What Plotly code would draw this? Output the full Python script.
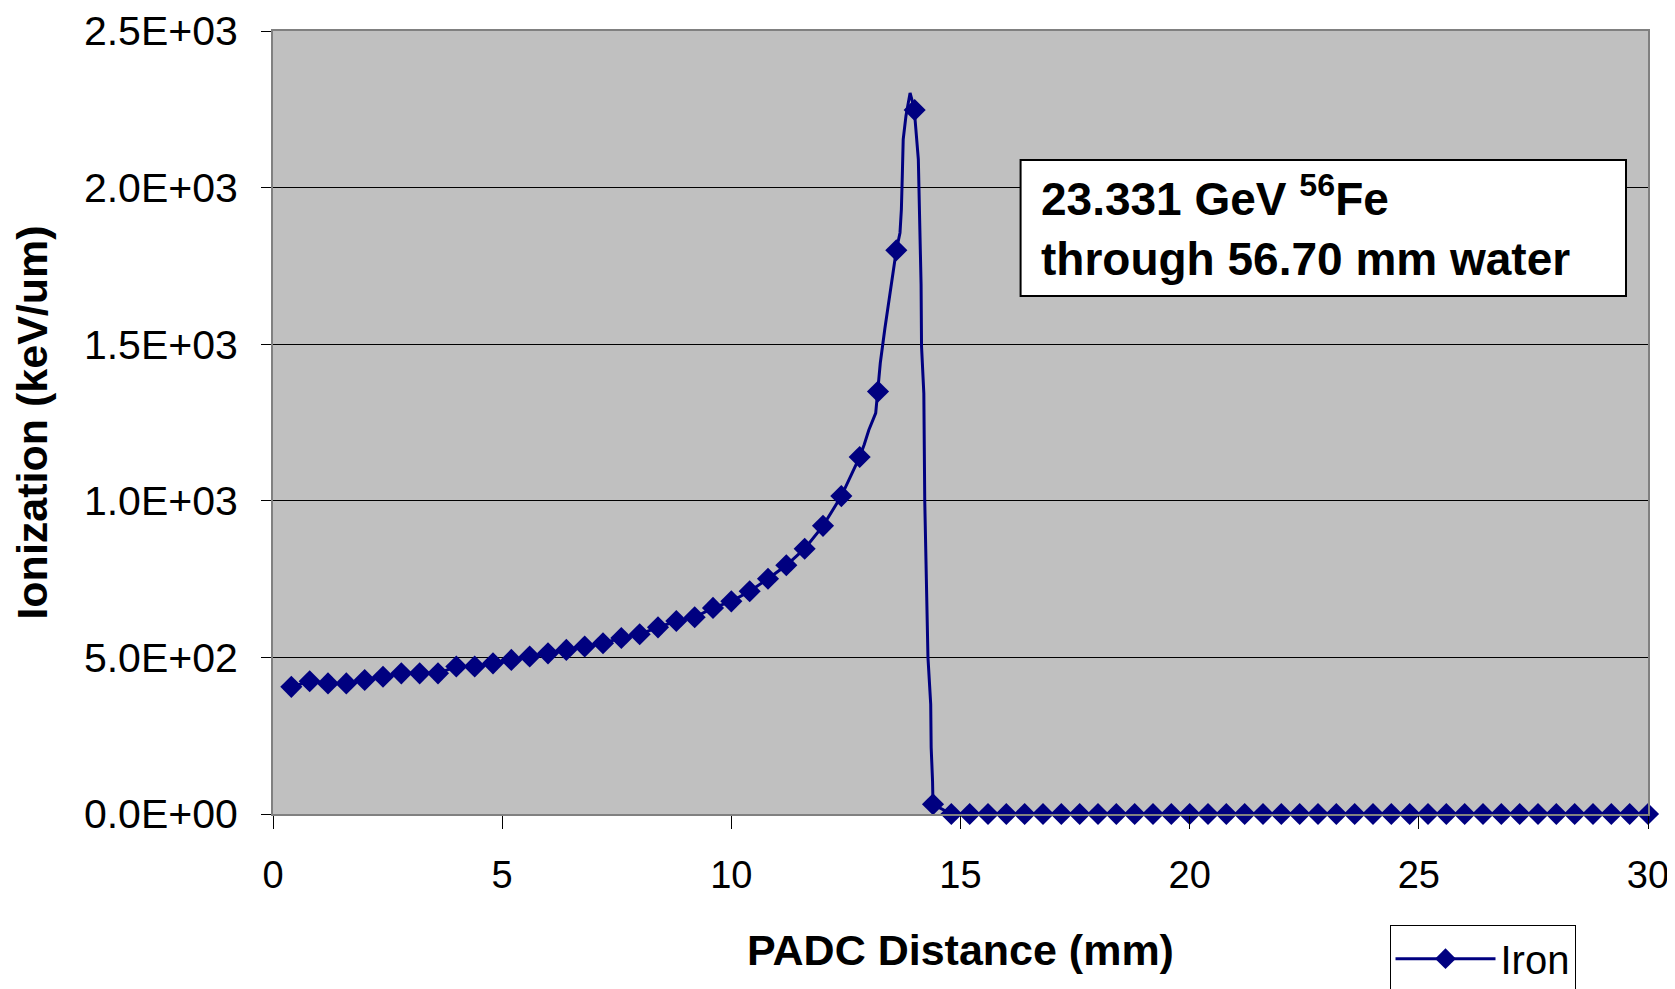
import plotly.graph_objects as go

# ---- data ----
marker_x = [0.4, 0.8, 1.2, 1.6, 2.0, 2.4, 2.8, 3.2, 3.6, 4.0, 4.4, 4.8, 5.2, 5.6, 6.0,
            6.4, 6.8, 7.2, 7.6, 8.0, 8.4, 8.8, 9.2, 9.6, 10.0, 10.4, 10.8, 11.2, 11.6,
            12.0, 12.4, 12.8, 13.2, 13.6, 14.0, 14.4, 14.8, 15.2, 15.6, 16.0, 16.4,
            16.8, 17.2, 17.6, 18.0, 18.4, 18.8, 19.2, 19.6, 20.0, 20.4, 20.8, 21.2,
            21.6, 22.0, 22.4, 22.8, 23.2, 23.6, 24.0, 24.4, 24.8, 25.2, 25.6, 26.0,
            26.4, 26.8, 27.2, 27.6, 28.0, 28.4, 28.8, 29.2, 29.6, 30.0]
marker_y = [406, 424, 417, 417, 428, 438, 449, 449, 449, 471, 471, 481, 492, 503, 513,
            524, 535, 545, 562, 574, 596, 616, 628, 658, 679, 711, 751, 794, 847,
            920, 1015, 1140, 1349, 1800, 2248, 31, 0, 0, 0, 0, 0,
            0, 0, 0, 0, 0, 0, 0, 0, 0, 0, 0, 0,
            0, 0, 0, 0, 0, 0, 0, 0, 0, 0, 0, 0,
            0, 0, 0, 0, 0, 0, 0, 0, 0, 0]

# extra intermediate points of the curve near the Bragg peak (line only)
detail_x = [12.9, 13.0, 13.15, 13.25, 13.35, 13.45, 13.53,
            13.68, 13.71, 13.73, 13.75, 13.81, 13.90,
            14.01, 14.08, 14.12, 14.14, 14.15, 14.20, 14.22, 14.29, 14.35, 14.36, 14.39]
detail_y = [1180, 1226, 1280, 1440, 1550, 1650, 1720,
            1856, 1930, 2037, 2154, 2229, 2302,
            2215, 2090, 1840, 1690, 1493, 1343, 1000, 500, 350, 212, 106]

y_tickvals = [0, 500, 1000, 1500, 2000, 2500]
y_ticktext = ["0.0E+00", "5.0E+02", "1.0E+03", "1.5E+03", "2.0E+03", "2.5E+03"]
x_tickvals = [0, 5, 10, 15, 20, 25, 30]

series_name = "Iron"
note_text = "<b>23.331 GeV <sup>56</sup>Fe<br>through 56.70 mm water</b>"

# ---- build line from markers + details ----
pts = sorted(list(zip(marker_x, marker_y)) + list(zip(detail_x, detail_y)), key=lambda p: p[0])
line_x = [p[0] for p in pts]
line_y = [p[1] for p in pts]

NAVY = "#000080"
FONT = "Liberation Sans, Arial, sans-serif"

fig = go.Figure()
fig.add_trace(go.Scatter(x=line_x, y=line_y, mode="lines",
                         line=dict(color=NAVY, width=3), showlegend=False,
                         cliponaxis=False, hoverinfo="skip"))
fig.add_trace(go.Scatter(x=marker_x, y=marker_y, mode="markers",
                         marker=dict(symbol="diamond", size=17, color=NAVY),
                         showlegend=False, cliponaxis=False, name=series_name))
fig.add_trace(go.Scatter(x=[None], y=[None], mode="lines+markers", name=series_name,
                         line=dict(color=NAVY, width=3),
                         marker=dict(symbol="diamond", size=17, color=NAVY)))

fig.update_layout(
    width=1667, height=981,
    paper_bgcolor="white", plot_bgcolor="#C0C0C0",
    margin=dict(l=265, r=27, t=23, b=175, autoexpand=False),
    font=dict(family=FONT, color="black"),
    xaxis=dict(range=[0, 30], tickvals=x_tickvals, ticks="outside", ticklen=13,
               tickcolor="black", tickwidth=1, showline=True, linecolor="#808080",
               linewidth=2, mirror=True, showgrid=False, zeroline=False,
               tickfont=dict(size=38, family=FONT), ticklabelstandoff=13,
               title=dict(text="<b>PADC Distance (mm)</b>", font=dict(size=43, family=FONT),
                          standoff=40)),
    yaxis=dict(range=[0, 2500], tickvals=y_tickvals, ticktext=y_ticktext, ticks="outside",
               ticklen=10, tickcolor="black", tickwidth=1, showline=True,
               linecolor="#808080", linewidth=2, mirror=True, showgrid=True,
               gridcolor="black", gridwidth=1, zeroline=False,
               tickfont=dict(size=41, family=FONT), ticklabelstandoff=15,
               title=dict(text="<b>Ionization (keV/um)</b>", font=dict(size=43, family=FONT),
                          standoff=31)),
    legend=dict(x=0.812, y=-0.142, xanchor="left", yanchor="top",
                bordercolor="black", borderwidth=1, bgcolor="white",
                font=dict(size=40, family=FONT), itemwidth=100),
    shapes=[dict(type="rect", xref="paper", yref="paper",
                 x0=0.5437, x1=0.984, y0=0.6616, y1=0.8352,
                 fillcolor="white", line=dict(color="black", width=2), layer="above")],
    annotations=[dict(text=note_text, xref="paper", yref="paper", x=0.557, y=0.829,
                      xanchor="left", yanchor="top", align="left", showarrow=False,
                      font=dict(size=46, family=FONT, color="black"))],
)

fig.write_html("out.html")
